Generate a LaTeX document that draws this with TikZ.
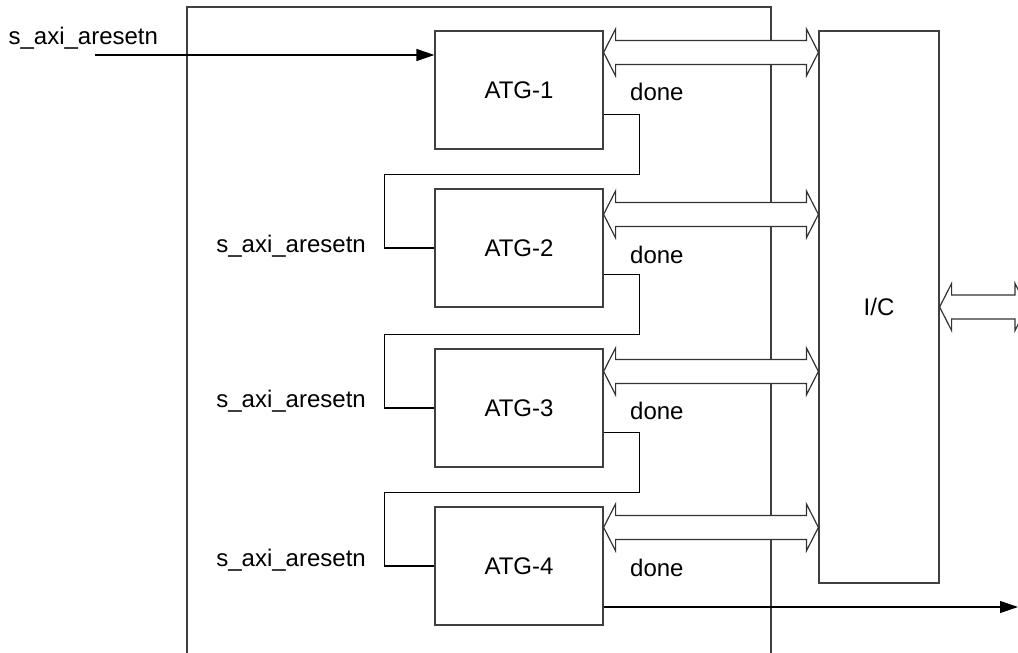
\documentclass[tikz,border=0pt]{standalone}
\usepackage{fontspec}
\setmainfont{Liberation Sans}
\usetikzlibrary{arrows.meta,calc}

\begin{document}
\begin{tikzpicture}[
            x=0.5pt, y=-0.5pt,
            >={Triangle[length=9pt,width=6pt]}, % 箭头样式
            font=\fontsize{12}{14}\selectfont,
            line width=0.6pt,
            block/.style={draw=black!75, minimum width=84pt, minimum height=59pt, inner sep=0pt}, % 模块框
            lbl/.style={inner sep=0pt}, % 信号名
            bus/.style={draw=black!80, fill=white, line join=miter} % 总线箭头
        ]
        % 图幅
        \clip (0,0) rectangle (1018,653);

        % 外框
        \draw[black!75] (187,660) |- (771,7) -- (771,660);

        % ATG 模块和 I/C
        \node[block] (atg1) at (519,90) {ATG-1};
        \node[block] (atg2) at (519,248) {ATG-2};
        \node[block] (atg3) at (519,408) {ATG-3};
        \node[block] (atg4) at (519,566) {ATG-4};
        \node[block, minimum width=60pt, minimum height=276pt] (ic) at (879,307) {I/C};

        % 总线端点
        \foreach \i/\d in {1/22, 2/26, 3/23, 4/21}
            \coordinate (b\i) at ($(atg\i.north east)+(0,\d)$);
        \coordinate (ext) at (1027,307);

        % 双向总线
        \foreach \src/\dst in {b1/ic.west, b2/ic.west, b3/ic.west, b4/ic.west, ic.east/ext} {
            \draw[bus] let \p1=(\src), \p2=(\dst |- \src) in
                (\p1) -- (\x1+6pt,\y1+11.75pt) -- (\x1+6pt,\y1+6pt) -- (\x2-6pt,\y1+6pt)
                -- (\x2-6pt,\y1+11.75pt) -- (\p2) -- (\x2-6pt,\y1-11.75pt) -- (\x2-6pt,\y1-6pt)
                -- (\x1+6pt,\y1-6pt) -- (\x1+6pt,\y1-11.75pt) -- cycle;
        }

        % 复位输入
        \coordinate (rst) at (95,55);
        \draw[->] (rst) -- (rst -| atg1.west);
        \node[lbl, anchor=base west] (rst1) at (8,44) {s\_axi\_aresetn};

        % done 串联
        \foreach \i/\j/\d in {1/2/84, 2/3/86, 3/4/84}
            \draw ($(atg\i.north east)+(0,\d)$) -- ++(36,0)
                |- ($(atg\j.north west)+(-50,-14)$) |- (atg\j.west);
        \foreach \j/\d in {2/4, 3/-1, 4/0}
            \node[lbl, anchor=base east] (rst\j) at ($(atg\j.west)+(-68,\d)$) {s\_axi\_aresetn};
        \foreach \i/\d in {1/70, 2/75, 3/71, 4/70}
            \node[lbl, anchor=base west] (done\i) at ($(atg\i.north east)+(26,\d)$) {done};

        % 输出
        \coordinate (out) at (1018,607);
        \draw[->] (atg4.east |- out) -- (out);

    \end{tikzpicture}
\end{document}
